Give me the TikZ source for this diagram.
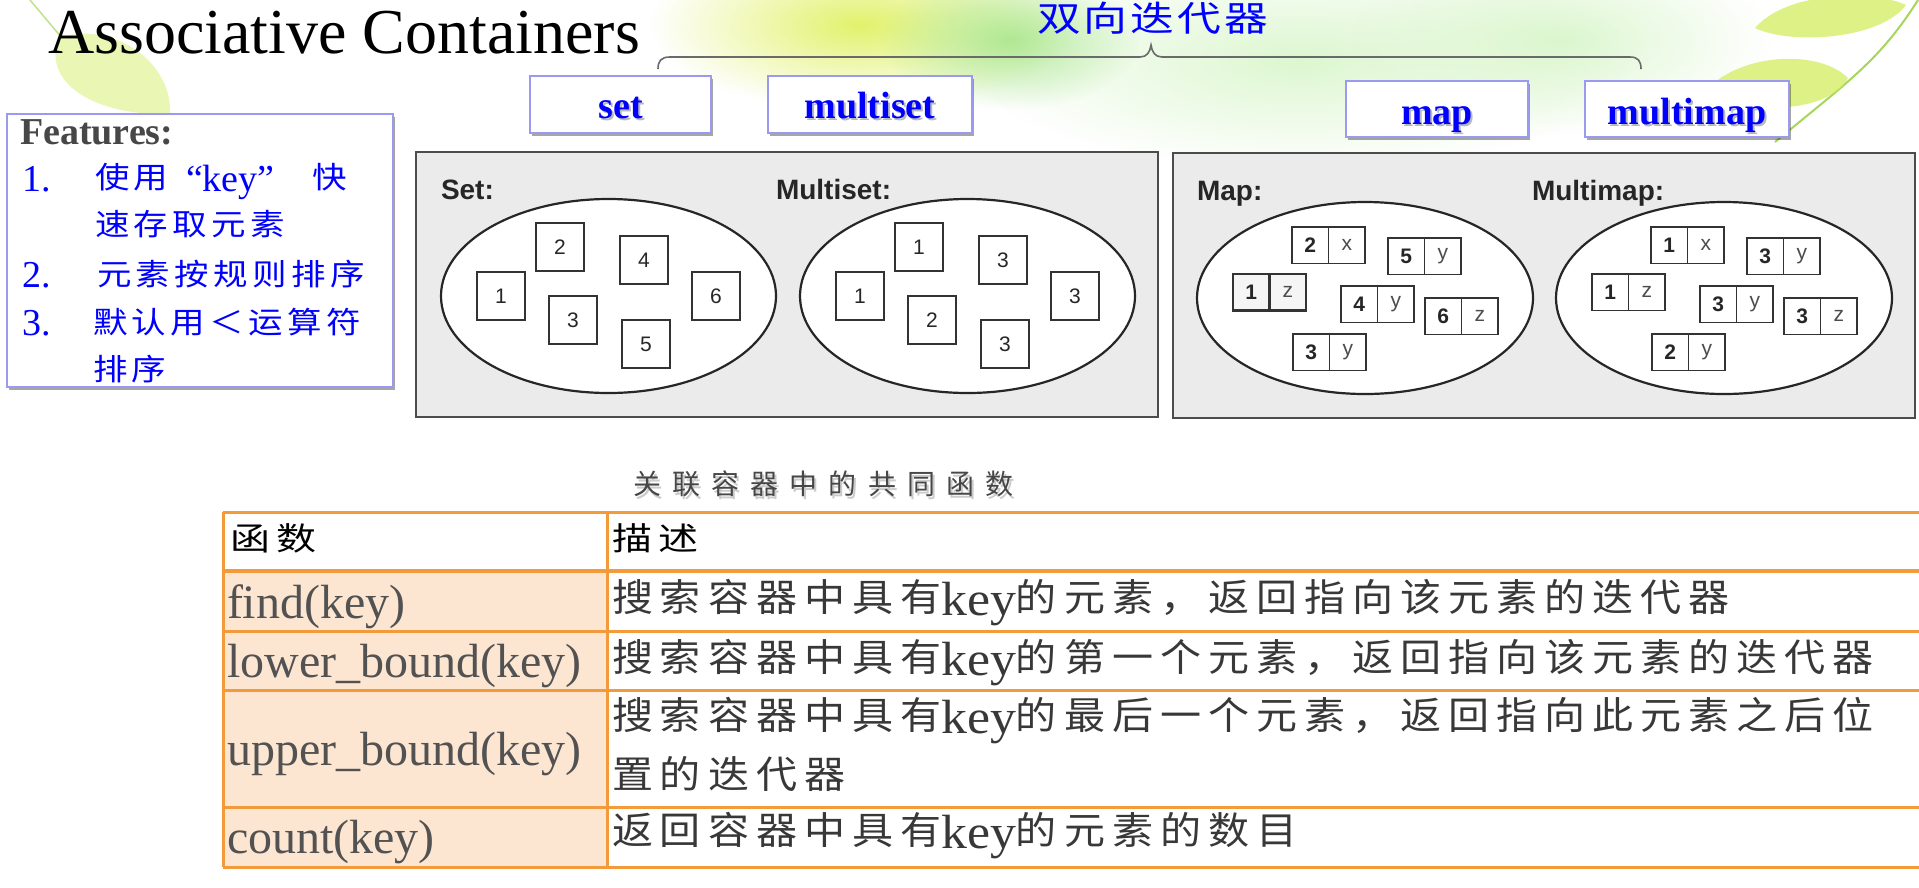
\documentclass[tikz,border=0pt]{standalone}
\usepackage{graphicx}
\usepackage{fontspec}
\setmainfont{Liberation Serif}
\setsansfont{Liberation Sans}
\newfontfamily\cjkfeat[LetterSpace=13]{Noto Sans CJK SC}
\newfontfamily\cjkdesc[LetterSpace=17]{Noto Sans CJK SC}
\newfontfamily\cjkcap[LetterSpace=40]{Noto Sans CJK SC}
\newfontfamily\cjkhead[LetterSpace=17]{Noto Sans CJK SC}
\newfontfamily\cjkbi[LetterSpace=7]{Noto Sans CJK SC}
\usetikzlibrary{shadows,fadings,shapes.geometric}
\tikzfading[name=softblob,inner color=transparent!0,outer color=transparent!100]
\definecolor{tblorange}{HTML}{F39A3A}
\definecolor{peach}{HTML}{FCE6D2}
\definecolor{panelgray}{HTML}{EBEBEB}
\definecolor{boxblue}{HTML}{9A9AF0}
\definecolor{txtblue}{HTML}{0000FF}
\definecolor{hazeY}{HTML}{E2F26C}
\definecolor{hazeG}{HTML}{A8E68C}
\definecolor{hazeL}{HTML}{D4F5C4}
\definecolor{leafA}{HTML}{E3F39A}
\definecolor{leafB}{HTML}{D5EE6A}
\definecolor{stemG}{HTML}{A6D65A}
\definecolor{bracecol}{HTML}{6A6A6A}
\definecolor{feattitle}{HTML}{474747}
\newcommand\hwide[2]{\scalebox{#1}[1]{#2}}
\begin{document}
\begin{tikzpicture}[x=1pt,y=-1pt,
  every node/.style={inner sep=0pt,outer sep=0pt},
  typebox/.style={draw=boxblue,line width=1.5pt,fill=white,
    drop shadow={shadow xshift=2pt,shadow yshift=-3pt,opacity=0.35,fill=black}},
  typetxt/.style={anchor=base,text=txtblue,font=\bfseries\fontsize{38pt}{40pt}\selectfont},
  typeshadow/.style={anchor=base,text=black!50,opacity=0.55,font=\bfseries\fontsize{38pt}{40pt}\selectfont},
  featbox/.style={draw=boxblue,line width=1.5pt,fill=white,
    drop shadow={shadow xshift=2pt,shadow yshift=-3pt,opacity=0.35,fill=black}},
  numtxt/.style={anchor=base west,text=txtblue,font=\fontsize{38pt}{40pt}\selectfont},
  feattxt/.style={anchor=base west,text=txtblue,font=\cjkfeat\fontsize{30pt}{34pt}\selectfont},
  panel/.style={draw=black!70,line width=2.5pt,fill=panelgray},
  panellabel/.style={anchor=base west,text=black!85,font=\sffamily\bfseries\fontsize{28pt}{30pt}\selectfont},
  bag/.style={ellipse,draw=black!85,line width=2.2pt,fill=white},
  single/.style={draw=black!80,line width=1.8pt,fill=white,minimum width=48pt,minimum height=48pt,
    anchor=north west,text=black!85,font=\sffamily\fontsize{21pt}{21pt}\selectfont},
  cell/.style={draw=black!80,line width=1.8pt,fill=white,minimum width=36.5pt,minimum height=36.5pt,
    anchor=north west,text=black!85,font=\sffamily\fontsize{21pt}{21pt}\selectfont},
  keycell/.style={cell,font=\sffamily\bfseries\fontsize{21pt}{21pt}\selectfont},
  valcell/.style={cell,text=black!70},
  tblline/.style={draw=tblorange,line width=3pt},
  fname/.style={anchor=base west,text=black!68,font=\fontsize{48pt}{50pt}\selectfont},
  desc/.style={anchor=base west,text=black!78,font=\cjkdesc\fontsize{38pt}{40pt}\selectfont},
  headtxt/.style={anchor=base west,text=black,font=\cjkhead\fontsize{32pt}{36pt}\selectfont}
]
\useasboundingbox (0,0) rectangle (1919,887);
\fill[white] (0,0) rectangle (1919,887);
% background haze and leaves
\fill[hazeL,path fading=softblob,opacity=.8] (1300,60) ellipse (330pt and 110pt);
\fill[hazeY,path fading=softblob,opacity=1] (860,25) ellipse (210pt and 85pt);
\fill[hazeG,path fading=softblob,opacity=.9] (1010,40) ellipse (130pt and 70pt);
\fill[hazeL,path fading=softblob,opacity=.8] (1560,40) ellipse (210pt and 95pt);
\draw[stemG!70,line width=1.5pt] (30,0) -- (62,38);
\fill[leafA,opacity=.75] (58,38) .. controls (110,20) and (172,60) .. (170,113)
   .. controls (120,118) and (40,95) .. cycle;
\draw[stemG,line width=2pt] (1918,0) .. controls (1880,60) and (1850,80) .. (1775,142);
\fill[leafB,opacity=.8] (1755,28) .. controls (1790,-12) and (1880,-8) .. (1906,5)
   .. controls (1880,40) and (1790,45) .. cycle;
\fill[leafB,opacity=.8] (1708,88) .. controls (1745,52) and (1820,50) .. (1848,78)
   .. controls (1830,112) and (1750,118) .. cycle;
% title
\node[anchor=base west,font=\fontsize{64pt}{70pt}\selectfont] (title) at (48,53) {Associative Containers};
% brace and its label
\draw[bracecol,line width=1.6pt] (658,69) .. controls (658,61) and (661,57) .. (670,57) -- (1140,57)
  .. controls (1147,57) and (1150,52) .. (1151,45) .. controls (1152,52) and (1155,57) .. (1162,57)
  -- (1630,57) .. controls (1638,57) and (1641,61) .. (1641,69);
\node[anchor=base west,text=txtblue,font=\cjkbi\fontsize{35pt}{40pt}\selectfont] (bidir) at (1037,31) {\hwide{1.25}{双向迭代器}};
% container type boxes
\node[typebox,minimum width=181pt,minimum height=57pt] (setbox) at (620.5,104.5) {};
\node[typebox,minimum width=204pt,minimum height=57pt] (msetbox) at (870,104.5) {};
\node[typebox,minimum width=182pt,minimum height=56pt] (mapbox) at (1437,109) {};
\node[typebox,minimum width=204pt,minimum height=56pt] (mmapbox) at (1687,109) {};
\node[typeshadow] (setsh) at (622.5,120.5) {set};
\node[typetxt] (settxt) at (620.5,118) {set};
\node[typeshadow] (msetsh) at (872,120.5) {multiset};
\node[typetxt] (msettxt) at (870,118) {multiset};
\node[typeshadow] (mapsh) at (1439,126.5) {map};
\node[typetxt] (maptxt) at (1437,124) {map};
\node[typeshadow] (mmapsh) at (1689,126.5) {multimap};
\node[typetxt] (mmaptxt) at (1687,124) {multimap};
% features box
\node[featbox,anchor=north west,minimum width=386pt,minimum height=273pt] (feat) at (7,114) {};
\node[anchor=base west,text=feattitle,font=\bfseries\fontsize{38pt}{40pt}\selectfont] (feattitle) at (20,144) {Features:};
\node[numtxt] (n1) at (22,191) {1.};
\node[feattxt] (f1a) at (95,188) {\hwide{1.15}{使用}};
\node[numtxt] (f1b) at (186,191) {“key”};
\node[feattxt] (f1c) at (312,188) {\hwide{1.15}{快}};
\node[feattxt] (f2) at (95,235) {\hwide{1.15}{速存取元素}};
\node[numtxt] (n2) at (22,287) {2.};
\node[feattxt] (f3) at (97,285) {\hwide{1.15}{元素按规则排序}};
\node[numtxt] (n3) at (22,335) {3.};
\node[feattxt] (f4) at (93,333) {\hwide{1.15}{默认用＜运算符}};
\node[feattxt] (f5) at (93,380) {\hwide{1.15}{排序}};
% panels
\node[panel,minimum width=742pt,minimum height=265pt] (setpanel) at (787,284.5) {};
\node[panel,minimum width=742pt,minimum height=265pt] (mappanel) at (1544,285.5) {};
\node[panellabel] (setlab) at (441,199) {Set:};
\node[panellabel] (msetlab) at (776,199) {Multiset:};
\node[panellabel] (maplab) at (1197,200) {Map:};
\node[panellabel] (mmaplab) at (1532,200) {Multimap:};
\node[bag,minimum width=335pt,minimum height=194pt] (setbag) at (608.5,296) {};
\node[bag,minimum width=335pt,minimum height=194pt] (msetbag) at (967.5,296) {};
\node[bag,minimum width=336pt,minimum height=192pt] (mapbag) at (1365,298) {};
\node[bag,minimum width=336pt,minimum height=192pt] (mmapbag) at (1724,298) {};
% set and multiset elements
\foreach \n/\x/\y/\t in {s2/536/223/2,s4/620/236/4,s1/477/272/1,s3/549/296/3,s6/692/272/6,s5/622/320/5,
  ma/895/223/1,mb/979/236/3,mc/836/272/1,md/908/296/2,me/1051/272/3,mf/981/320/3}
  \node[single] (\n) at (\x,\y) {\t};
% map and multimap elements
\foreach \n/\x/\y/\k/\v in {p2x/1292/227/2/x,p5y/1388/238/5/y,p4y/1341/286/4/y,p6z/1425/298/6/z,p3y/1293/334/3/y,
  q1x/1651/227/1/x,q3y/1747/238/3/y,q1z/1592/274/1/z,q3b/1700/286/3/y,q3z/1784/298/3/z,q2y/1652/334/2/y}
  {\node[keycell] (\n-k) at (\x,\y) {\k};
   \node[valcell] (\n-v) at (\n-k.north east) {\v};}
\node[keycell,line width=2.8pt,fill=black!4] (p1z-k) at (1233,274) {1};
\node[valcell,line width=2.8pt,fill=black!4] (p1z-v) at (p1z-k.north east) {z};
% table caption
\node[anchor=base west,text=black!40,opacity=.5,font=\cjkcap\fontsize{28pt}{30pt}\selectfont] (capsh) at (635,497) {关联容器中的共同函数};
\node[anchor=base west,text=black!72,font=\cjkcap\fontsize{28pt}{30pt}\selectfont] (cap) at (633,494) {关联容器中的共同函数};
% table
\fill[peach] (223,571) rectangle (607,867);
\foreach \yy in {512,631,690,807,867} \draw[tblline] (223,\yy) -- (1919,\yy);
\draw[tblline,line width=4.5pt] (223,571) -- (1919,571);
\draw[tblline] (223,512) -- (223,867);
\draw[tblline] (607,512) -- (607,867);
\node[headtxt] (h1) at (230,550) {\hwide{1.25}{函数}};
\node[headtxt] (h2) at (612,550) {\hwide{1.25}{描述}};
\node[fname] (fn1) at (227,618) {find(key)};
\node[fname] (fn2) at (227,677) {lower\_bound(key)};
\node[fname] (fn3) at (227,765) {upper\_bound(key)};
\node[fname] (fn4) at (227,853) {count(key)};
\newcommand\keyw{\raisebox{-4pt}{\fontspec{Liberation Serif}\fontsize{48pt}{50pt}\selectfont key}}
\node[desc] (d1) at (612,611) {\hwide{1.08}{搜索容器中具有\keyw 的元素，返回指向该元素的迭代器}};
\node[desc] (d2) at (612,671) {\hwide{1.08}{搜索容器中具有\keyw 的第一个元素，返回指向该元素的迭代器}};
\node[desc] (d3a) at (612,729) {\hwide{1.08}{搜索容器中具有\keyw 的最后一个元素，返回指向此元素之后位}};
\node[desc] (d3b) at (612,788) {\hwide{1.08}{置的迭代器}};
\node[desc] (d4) at (612,844) {\hwide{1.08}{返回容器中具有\keyw 的元素的数目}};
\end{tikzpicture}
\end{document}
